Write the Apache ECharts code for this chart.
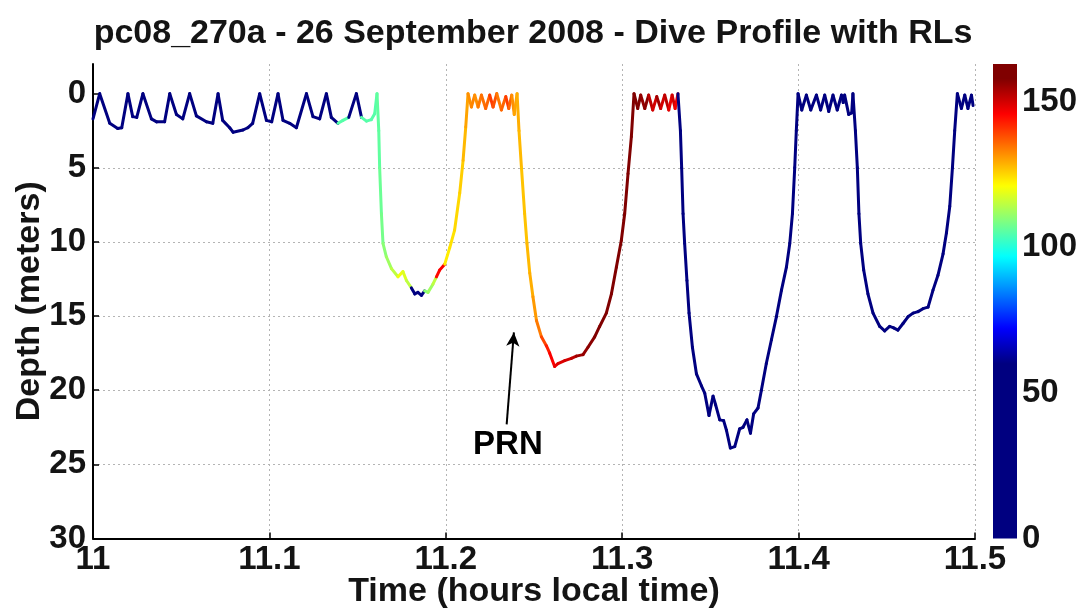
<!DOCTYPE html>
<html><head><meta charset="utf-8">
<script src="https://cdn.jsdelivr.net/npm/echarts@6/dist/echarts.min.js"></script>
<style>html,body{margin:0;padding:0;background:#fff}#c{width:1085px;height:609px}</style>
</head><body><div id="c"></div>
<script>
// ---- data ----
const timeHours = [
11.0000,11.0038,11.0095,11.0140,11.0163,11.0198,11.0225,11.0248,11.0283,11.0331,11.0361,11.0406,11.0435,11.0473,11.0509,11.0548,11.0586,11.0643,11.0679,11.0709,11.0735,11.0775,11.0794,11.0850,11.0877,11.0905,11.0945,11.0983,11.1013,11.1049,11.1077,11.1115,11.1153,11.1210,11.1247,11.1285,11.1323,11.1351,11.1389,11.1417,11.1450,11.1493,11.1522,11.1550,11.1578,11.1597,11.1610,
11.1620,11.1625,11.1635,11.1644,11.1663,11.1692,11.1729,11.1757,11.1777,11.1805,11.1824,11.1842,11.1862,11.1880,11.1899,11.1927,11.1947,11.1965,11.1994,11.2022,11.2050,11.2079,11.2098,11.2113,11.2126,
11.2145,11.2164,11.2183,11.2202,11.2226,11.2249,11.2268,11.2289,11.2315,11.2340,11.2357,11.2374,11.2388,11.2404,
11.2415,11.2429,11.2447,11.2460,11.2476,11.2494,11.2514,11.2542,11.2570,11.2589,11.2617,11.2636,11.2674,11.2712,11.2740,11.2778,11.2806,11.2844,11.2872,11.2910,11.2939,11.2967,11.2995,11.3014,11.3033,11.3052,11.3067,
11.3088,11.3105,11.3128,11.3150,11.3173,11.3196,11.3218,11.3241,11.3264,11.3283,11.3300,11.3316,
11.3330,11.3337,11.3345,11.3354,11.3367,11.3379,11.3398,11.3421,11.3449,11.3468,11.3492,11.3515,11.3530,11.3553,11.3575,11.3591,11.3613,11.3638,11.3666,11.3685,11.3707,11.3727,11.3745,11.3770,11.3789,11.3817,11.3846,11.3874,11.3903,11.3931,11.3950,11.3965,11.3978,11.3987,11.3997,
11.4018,11.4044,11.4069,11.4101,11.4125,11.4148,11.4171,11.4195,11.4219,11.4243,11.4253,11.4261,11.4284,11.4301,11.4308,
11.4322,11.4333,11.4342,11.4352,11.4369,11.4393,11.4422,11.4460,11.4488,11.4516,11.4539,11.4563,11.4592,11.4620,11.4649,11.4677,11.4705,11.4734,11.4762,11.4790,11.4819,11.4838,11.4857,11.4872,11.4885,11.4900,
11.4923,11.4942,11.4960,11.4980,11.4989
];
const depthMeters = [
1.7,0.0,2.0,2.35,2.3,0.0,1.55,1.6,0.0,1.7,1.9,1.9,0.0,1.4,1.7,0.0,1.5,1.9,2.0,0.0,1.8,2.3,2.6,2.45,2.3,2.0,0.0,1.8,1.9,0.0,1.8,2.0,2.3,0.0,1.55,1.7,0.0,1.6,2.0,1.8,1.6,0.0,1.6,1.85,1.75,1.35,0.0,
2.5,5.0,8.1,10.1,11.0,11.8,12.35,12.0,12.6,13.1,13.5,13.4,13.6,13.3,13.4,12.85,12.35,11.9,11.5,10.4,9.2,6.7,4.5,2.25,0.0,
0.9,0.1,0.9,0.1,1.0,0.1,0.9,0.0,1.1,0.2,1.0,0.1,1.4,0.0,
2.5,5.0,8.1,10.1,12.1,13.7,15.3,16.4,17.0,17.5,18.4,18.2,18.0,17.85,17.7,17.6,17.1,16.4,15.7,14.8,13.5,11.7,9.9,8.1,5.4,2.9,0.0,
1.0,0.1,1.0,0.1,1.1,0.2,1.0,0.1,1.1,0.1,1.0,0.0,
2.5,5.0,8.1,10.1,12.6,14.8,17.1,18.9,19.7,20.2,21.7,20.4,21.0,22.0,22.05,22.7,23.9,23.8,22.6,22.5,22.0,22.9,21.6,21.2,20.0,18.2,16.6,15.05,13.25,11.7,10.1,8.1,5.0,2.5,0.0,
1.1,0.1,1.1,0.1,1.1,0.1,1.2,0.1,1.1,0.1,0.6,0.1,1.4,1.3,0.0,
2.5,5.0,8.1,10.1,11.9,13.5,14.8,15.7,16.0,15.7,15.8,15.95,15.5,15.05,14.8,14.7,14.5,14.4,13.25,12.25,10.8,9.4,7.6,5.0,2.5,0.0,
1.0,0.1,1.0,0.1,0.8
];
const receivedLevel = [
0,0,0,0,0,0,0,0,0,0,0,0,0,0,0,0,0,0,0,0,0,0,0,0,0,0,0,0,0,0,0,0,0,0,0,0,0,0,
105,105,0,0,105,105,105,105,
106,106,107,108,110,112,115,120,118,115,
0,0,0,0,
110,112,115,145,146,
123,124,125,126,128,130,132,
133,132,134,135,136,140,138,134,136,140,136,132,130,129,
128,127,127,128,129,131,134,139,143,146,148,149,150,152,155,156,157,158,158,159,159,160,160,160,160,159,158,
158,156,157,152,150,155,150,152,148,150,147,
0,0,0,0,0,0,0,0,0,0,0,0,0,0,0,0,0,0,0,0,0,0,0,0,0,0,0,0,0,0,0,0,0,0,0,0,0,0,0,0,0,
0,0,0,0,0,0,0,0,0,0,0,0,0,0,0,0,0,0,0,0,0,0,0,0,0,0,0,0,0,0,0,0,0,0,0,0,0,0,0,0,0
];
const xTicks = [11, 11.1, 11.2, 11.3, 11.4, 11.5];
const yTicks = [0, 5, 10, 15, 20, 25, 30];
const colorbarTicks = [0, 50, 100, 150];
const colorbarRange = [0, 163];
const jetRange = [60, 158];
const arrowFrom = [11.2345, 22.3];
const arrowTo = [11.2386, 16.1];
const noteLabel = 'PRN';
const notePos = [11.2352, 23.7];
const titleText = 'pc08_270a - 26 September 2008 - Dive Profile with RLs';

// ---- colormap ----
function clamp01(v){return Math.max(0, Math.min(1, v));}
function jet(v){
  const f = clamp01((v - jetRange[0]) / (jetRange[1] - jetRange[0]));
  const r = clamp01(1.5 - Math.abs(4*f - 3));
  const g = clamp01(1.5 - Math.abs(4*f - 2));
  const b = clamp01(1.5 - Math.abs(4*f - 1));
  return 'rgb(' + Math.round(r*255) + ',' + Math.round(g*255) + ',' + Math.round(b*255) + ')';
}

const segments = [];
for (let i = 0; i < timeHours.length - 1; i++) {
  segments.push([timeHours[i], depthMeters[i], timeHours[i+1], depthMeters[i+1], receivedLevel[i]]);
}
const gradStops = [];
for (let v = colorbarRange[0]; v <= colorbarRange[1]; v += 1) {
  gradStops.push({offset: (v - colorbarRange[0]) / (colorbarRange[1] - colorbarRange[0]), color: jet(v)});
}

const FONT = 'Liberation Sans';
const TXT = '#141414';
const TICK_FS = 33;
const NAME_FS = 34;
const chart = echarts.init(document.getElementById('c'), null, {renderer: 'canvas'});
chart.setOption({
  animation: false,
  backgroundColor: '#fff',
  graphic: [{
    type: 'text', x: 533, y: 34,
    style: {text: titleText, font: 'bold 34px "Liberation Sans"', fill: TXT, textAlign: 'center', textVerticalAlign: 'middle'}
  }],
  grid: [
    {left: 93, top: 64, width: 882, height: 474.5, outerBoundsMode: 'none', containLabel: false},
    {left: 993, top: 64, width: 24, height: 474.5, outerBoundsMode: 'none', containLabel: false}
  ],
  xAxis: [{
    type: 'value', gridIndex: 0, min: 11, max: 11.5, interval: 0.1,
    name: 'Time (hours local time)', nameLocation: 'middle', nameGap: 36, nameMoveOverlap: false,
    nameTextStyle: {fontFamily: FONT, fontWeight: 'bold', fontSize: NAME_FS, color: TXT},
    axisLine: {show: true, onZero: false, lineStyle: {color: '#000', width: 2}},
    axisTick: {show: true, inside: true, length: 6, customValues: xTicks, lineStyle: {color: '#000', width: 1.5}},
    axisLabel: {customValues: xTicks, margin: 5, fontFamily: FONT, fontWeight: 'bold', fontSize: TICK_FS, color: TXT},
    splitLine: {show: true, showMinLine: false, lineStyle: {color: '#b4b4b4', width: 1, type: [2, 3]}}
  }, {
    type: 'value', gridIndex: 1, min: 0, max: 1, show: false
  }],
  yAxis: [{
    type: 'value', gridIndex: 0, min: -2, max: 30, inverse: true, minInterval: 5, maxInterval: 5,
    name: 'Depth (meters)', nameLocation: 'middle', nameGap: 46, nameRotate: 90, nameMoveOverlap: false,
    nameTextStyle: {fontFamily: FONT, fontWeight: 'bold', fontSize: NAME_FS, color: TXT},
    axisLine: {show: true, onZero: false, lineStyle: {color: '#000', width: 2}},
    axisTick: {show: true, inside: true, length: 6, customValues: yTicks, lineStyle: {color: '#000', width: 1.5}},
    axisLabel: {customValues: yTicks, margin: 7, fontFamily: FONT, fontWeight: 'bold', fontSize: TICK_FS, color: TXT},
    splitLine: {show: true, showMinLine: false, lineStyle: {color: '#b4b4b4', width: 1, type: [2, 3]}}
  }, {
    type: 'value', gridIndex: 1, min: colorbarRange[0], max: colorbarRange[1], position: 'right',
    axisLine: {show: false}, axisTick: {show: false}, splitLine: {show: false},
    axisLabel: {customValues: colorbarTicks, margin: 5, fontFamily: FONT, fontWeight: 'bold', fontSize: TICK_FS, color: TXT}
  }],
  series: [{
    type: 'custom', xAxisIndex: 0, yAxisIndex: 0, silent: true, clip: false,
    data: segments, encode: {x: [0, 2], y: [1, 3]},
    renderItem: function (params, api) {
      const p1 = api.coord([api.value(0), api.value(1)]);
      const p2 = api.coord([api.value(2), api.value(3)]);
      return {type: 'line', shape: {x1: p1[0], y1: p1[1], x2: p2[0], y2: p2[1]},
        style: {stroke: jet(api.value(4)), lineWidth: 3, lineCap: 'round'}};
    }
  }, {
    type: 'custom', xAxisIndex: 1, yAxisIndex: 1, silent: true,
    data: [[0, colorbarRange[1], 1, colorbarRange[0]]], encode: {x: [0, 2], y: [1, 3]},
    renderItem: function (params, api) {
      const a = api.coord([api.value(0), api.value(1)]);
      const b = api.coord([api.value(2), api.value(3)]);
      return {type: 'rect', shape: {x: a[0], y: a[1], width: b[0] - a[0], height: b[1] - a[1]},
        style: {fill: {type: 'linear', x: 0, y: 1, x2: 0, y2: 0, colorStops: gradStops}}};
    }
  }, {
    type: 'scatter', xAxisIndex: 0, yAxisIndex: 0, silent: true,
    data: [notePos], symbolSize: 0, itemStyle: {color: '#000'},
    label: {show: true, position: 'inside', formatter: noteLabel, fontFamily: FONT, fontWeight: 'bold', fontSize: TICK_FS, color: '#000', textBorderWidth: 0, opacity: 1},
    markLine: {
      silent: true, symbol: ['none', 'arrow'], symbolSize: [10, 14],
      lineStyle: {color: '#000', width: 2, type: 'solid'}, label: {show: false},
      data: [[{coord: arrowFrom}, {coord: arrowTo}]]
    }
  }]
});
</script>
</body></html>
